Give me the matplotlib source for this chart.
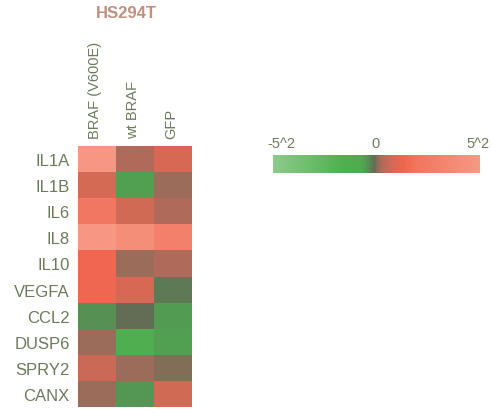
import numpy as np
import matplotlib
matplotlib.use("Agg")
import matplotlib.pyplot as plt
from matplotlib.colors import LinearSegmentedColormap

plt.rcParams['font.family'] = ['Liberation Sans', 'DejaVu Sans']

genes = ["IL1A", "IL1B", "IL6", "IL8", "IL10", "VEGFA", "CCL2", "DUSP6", "SPRY2", "CANX"]
conditions = ["BRAF (V600E)", "wt BRAF", "GFP"]

# expression ratios (scaled to -1..1 of the colour range)
braf_v600e = [0.94, 0.15, 0.42, 0.94, 0.26, 0.27, -0.08, 0.03, 0.12, 0.03]
wt_braf    = [0.06, -0.11, 0.14, 0.80, 0.03, 0.16, -0.02, -0.24, 0.026, -0.09]
gfp        = [0.16, 0.024, 0.06, 0.56, 0.06, -0.04, -0.10, -0.11, 0.0, 0.14]

cbar_ticks = ["-5^2", "0", "5^2"]
title = "HS294T"

values = np.array([braf_v600e, wt_braf, gfp]).T

cmap = LinearSegmentedColormap.from_list(
    "greenred",
    [(0.00, "#8ecb8c"),
     (0.34, "#4fb04f"),
     (0.42, "#4fac4f"),
     (0.45, "#529c52"),
     (0.47, "#5a8355"),
     (0.49, "#626c55"),
     (0.505, "#8a6e58"),
     (0.52, "#a86a5a"),
     (0.57, "#d26a55"),
     (0.63, "#f06650"),
     (0.70, "#f27660"),
     (1.00, "#f59a85")])

W, H = 492, 410
fig = plt.figure(figsize=(W / 100, H / 100), dpi=100)

text_col = "#6b7a5b"

# heatmap
ax = fig.add_axes([78 / W, 1 - 408 / H, (192 - 78) / W, (408 - 147) / H])
ax.pcolormesh(values, cmap=cmap, vmin=-1, vmax=1)
ax.set_xlim(0, 3)
ax.set_ylim(len(genes), 0)
ax.set_xticks(np.arange(len(conditions)) + 0.45)
ax.set_xticklabels(conditions, rotation=90, fontsize=10.5, color=text_col)
ax.xaxis.tick_top()
ax.set_yticks(np.arange(len(genes)) + 0.5)
ax.set_yticklabels(genes, fontsize=12, color=text_col)
ax.tick_params(axis="y", length=0, pad=6)
ax.tick_params(axis="x", length=0, pad=6)
for s in ax.spines.values():
    s.set_visible(False)

fig.text(126 / W, 1 - 14 / H, title, ha="center", va="center",
         fontsize=12, fontweight="bold", color="#c09080")

# colour bar
cax = fig.add_axes([273 / W, 1 - 174 / H, (480 - 273) / W, (174 - 156) / H])
grad = np.linspace(-1, 1, 256)[None, :]
cax.imshow(grad, cmap=cmap, aspect="auto", extent=[-1, 1, 0, 1])
cax.set_xticks([])
cax.set_yticks([])
for s in cax.spines.values():
    s.set_visible(False)

for xpix, lab in zip([281, 376, 478], cbar_ticks):
    fig.text(xpix / W, 1 - 144 / H, lab, ha="center", va="center",
             fontsize=10.5, color=text_col)

fig.savefig("out.png", dpi=100)
